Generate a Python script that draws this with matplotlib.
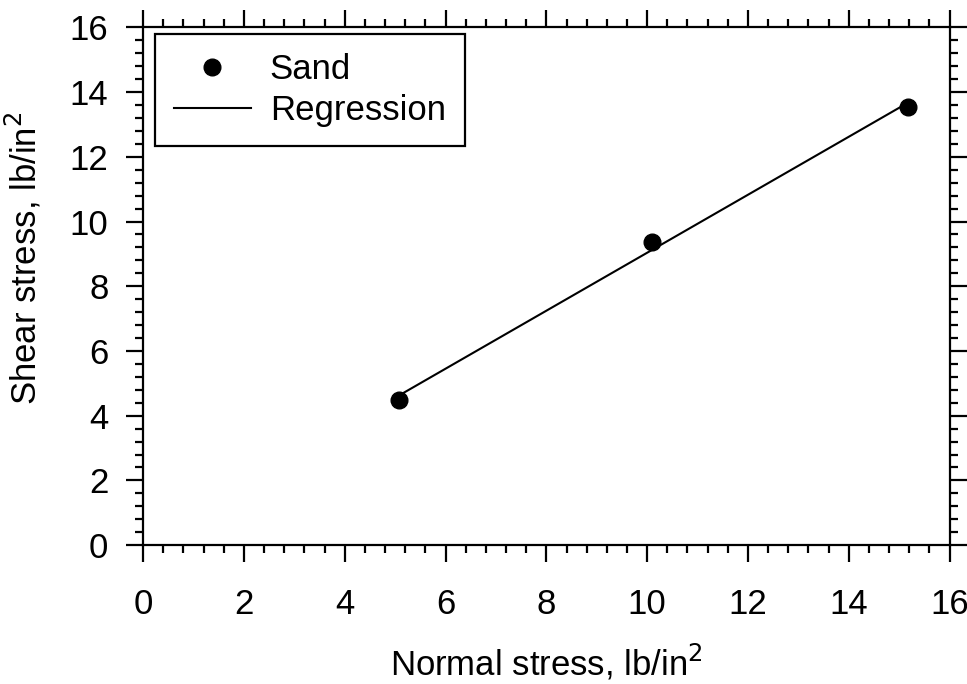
import numpy as np
import matplotlib
matplotlib.use("Agg")
import matplotlib.pyplot as plt
from matplotlib.ticker import AutoMinorLocator

plt.rcParams['font.family'] = ['Liberation Sans', 'DejaVu Sans']

normal_stress = [5.08, 10.1, 15.18]
shear_stress = [4.5, 9.38, 13.55]
x_ticks = [0, 2, 4, 6, 8, 10, 12, 14, 16]
y_ticks = [0, 2, 4, 6, 8, 10, 12, 14, 16]

FS = 25

fig = plt.figure(figsize=(9.67, 6.84), dpi=100)
ax = fig.add_axes([0.148, 0.203, 0.834, 0.757])

b, a = np.polyfit(normal_stress, shear_stress, 1)
xl = np.array([normal_stress[0], normal_stress[-1]])
ax.plot(normal_stress, shear_stress, 'o', color='black', markersize=12, label='Sand', zorder=3)
ax.plot(xl, a + b * xl, '-', color='black', linewidth=1.5, label='Regression')

ax.set_xlim(0, 16)
ax.set_ylim(0, 16)
ax.set_xticks(x_ticks)
ax.set_yticks(y_ticks)
ax.xaxis.set_minor_locator(AutoMinorLocator(5))
ax.yaxis.set_minor_locator(AutoMinorLocator(5))
ax.tick_params(which='both', direction='out', top=True, right=True, width=1.6, labelsize=FS)
ax.tick_params(which='major', length=12)
ax.tick_params(which='minor', length=6)
ax.tick_params(axis='x', which='major', pad=19, labeltop=False)
ax.tick_params(axis='y', which='major', pad=13, labelright=False)
for s in ax.spines.values():
    s.set_linewidth(1.6)

ax.set_xlabel('Normal stress, lb/in$^2$', fontsize=FS, va='center')
ax.set_ylabel('Shear stress, lb/in$^2$', fontsize=FS, va='center')
ax.xaxis.set_label_coords(0.5, -0.226)
ax.yaxis.set_label_coords(-0.148, 0.554)

leg = ax.legend(loc='upper left', bbox_to_anchor=(0.0149, 0.988), fontsize=FS,
                frameon=True, fancybox=False, edgecolor='black', borderaxespad=0,
                handlelength=2.2, handletextpad=0.55, labelspacing=0.25,
                borderpad=0.55, framealpha=1)
leg.get_frame().set_linewidth(1.6)

fig.savefig('out.png', dpi=100)
